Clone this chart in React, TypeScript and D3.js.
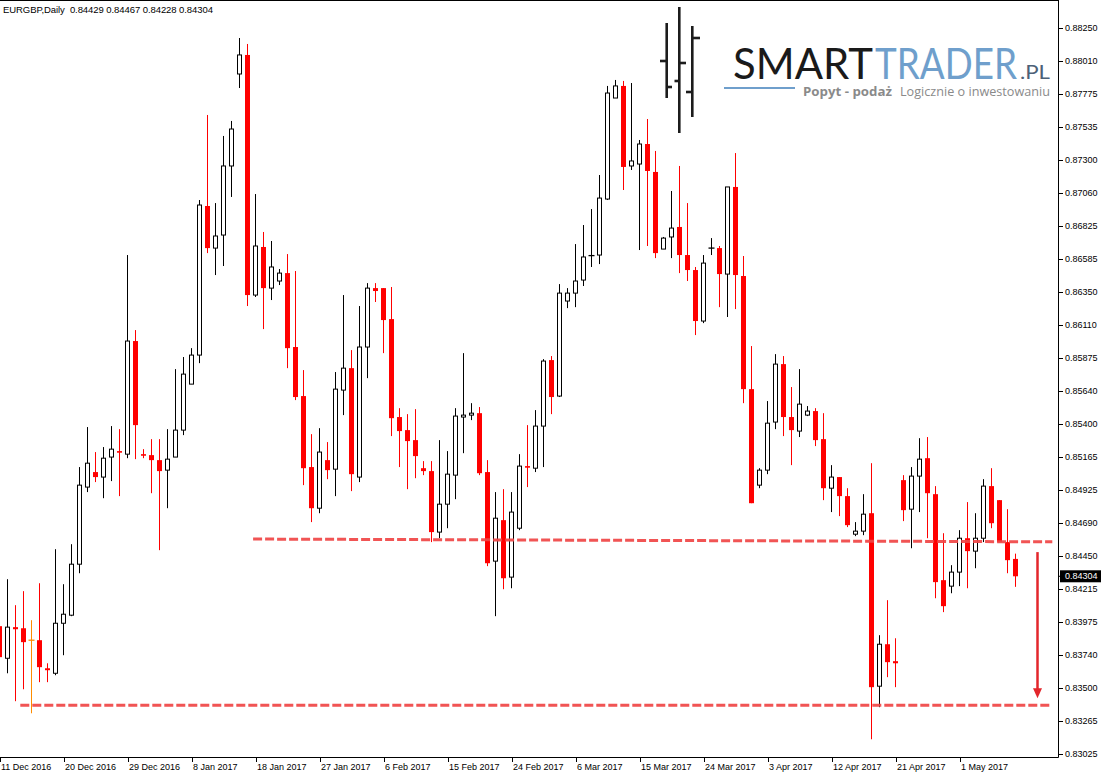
import React from 'react';
import * as d3 from 'd3';

// ---------- DATA ----------
const symbolTitle = "EURGBP,Daily";
const firstBarIndex = -1;

const openP: number[] = [
  0.83945, 0.83714, 0.83938, 0.83930, 0.83844, 0.83844, 0.83642, 0.83606, 0.83966, 0.84024,
  0.84391, 0.84946, 0.85054, 0.85018, 0.85162, 0.85205, 0.85183, 0.85997, 0.85183, 0.85176,
  0.85140, 0.85068, 0.85162, 0.85356, 0.85687, 0.85896, 0.86969, 0.86666, 0.86760, 0.87257,
  0.87919, 0.88056, 0.86328, 0.86674, 0.86378, 0.86429, 0.86486, 0.85954, 0.85601, 0.85090,
  0.84794, 0.85140, 0.85075, 0.85644, 0.85802, 0.85018, 0.85954, 0.86378, 0.86378, 0.86155,
  0.85450, 0.85356, 0.85284, 0.85082, 0.85061, 0.84622, 0.84823, 0.85032, 0.85450, 0.85464,
  0.85478, 0.85054, 0.84413, 0.84708, 0.84298, 0.84650, 0.85097, 0.85082, 0.85385, 0.85860,
  0.85601, 0.86285, 0.86342, 0.86436, 0.86612, 0.86616, 0.87019, 0.87746, 0.87833, 0.87257,
  0.87271, 0.87415, 0.87214, 0.86659, 0.86746, 0.86818, 0.86616, 0.86508, 0.86141, 0.86666,
  0.86666, 0.86479, 0.87106, 0.86465, 0.85651, 0.84960, 0.85068, 0.85414, 0.85831, 0.85450,
  0.85349, 0.85464, 0.85493, 0.85291, 0.84938, 0.85018, 0.84881, 0.84607, 0.84629, 0.84758,
  0.83513, 0.83815, 0.83693, 0.84996, 0.84787, 0.85025, 0.85154, 0.84895, 0.84276, 0.84233,
  0.84334, 0.84578, 0.84485, 0.84578, 0.84953, 0.84852, 0.84550, 0.84429
];
const highP: number[] = [
  0.84060, 0.84283, 0.84096, 0.84197, 0.83988, 0.84254, 0.83678, 0.84499, 0.84247, 0.84535,
  0.85090, 0.85378, 0.85198, 0.85234, 0.85385, 0.85363, 0.86616, 0.86076, 0.85219, 0.85291,
  0.85291, 0.85363, 0.85795, 0.85882, 0.85946, 0.87012, 0.87624, 0.86990, 0.87473, 0.87581,
  0.88178, 0.88135, 0.87055, 0.86782, 0.86717, 0.86515, 0.86623, 0.86501, 0.85788, 0.85327,
  0.85370, 0.85270, 0.85774, 0.86328, 0.85932, 0.86249, 0.86414, 0.86414, 0.86378, 0.86386,
  0.85514, 0.85471, 0.85507, 0.85133, 0.85133, 0.85284, 0.85205, 0.85514, 0.85910, 0.85550,
  0.85522, 0.85140, 0.84910, 0.84931, 0.84910, 0.85183, 0.85392, 0.85500, 0.85867, 0.85889,
  0.86407, 0.86378, 0.86695, 0.86832, 0.86947, 0.87192, 0.87833, 0.87876, 0.87869, 0.87854,
  0.87444, 0.87595, 0.87365, 0.86746, 0.87077, 0.87257, 0.86990, 0.86530, 0.86616, 0.86738,
  0.86681, 0.87106, 0.87350, 0.86609, 0.85961, 0.85082, 0.85565, 0.85903, 0.85889, 0.85666,
  0.85795, 0.85529, 0.85514, 0.85478, 0.85104, 0.85018, 0.84938, 0.84694, 0.84895, 0.85118,
  0.83880, 0.84132, 0.83858, 0.85032, 0.85090, 0.85298, 0.85306, 0.84953, 0.84614, 0.84384,
  0.84636, 0.84838, 0.84758, 0.85003, 0.85082, 0.84852, 0.84787, 0.84467
];
const lowP: number[] = [
  0.83642, 0.83606, 0.83405, 0.83491, 0.83318, 0.83542, 0.83542, 0.83592, 0.83736, 0.84017,
  0.84326, 0.84910, 0.84982, 0.84866, 0.84989, 0.84881, 0.85154, 0.85147, 0.85154, 0.84902,
  0.84492, 0.84794, 0.85162, 0.85320, 0.85687, 0.85838, 0.86630, 0.86472, 0.86537, 0.87034,
  0.87818, 0.86249, 0.86314, 0.86083, 0.86292, 0.86400, 0.85802, 0.85572, 0.84960, 0.84694,
  0.84758, 0.85003, 0.84881, 0.85464, 0.84917, 0.84982, 0.85730, 0.86278, 0.85910, 0.85313,
  0.85090, 0.84931, 0.85010, 0.85032, 0.84550, 0.84578, 0.84650, 0.84859, 0.85190, 0.85428,
  0.85032, 0.84377, 0.84017, 0.84211, 0.84218, 0.84636, 0.84946, 0.85054, 0.85090, 0.85471,
  0.85594, 0.86234, 0.86241, 0.86393, 0.86530, 0.86551, 0.87012, 0.87746, 0.87084, 0.87228,
  0.86652, 0.86681, 0.86594, 0.86659, 0.86594, 0.86486, 0.86429, 0.86040, 0.86126, 0.86616,
  0.86241, 0.86170, 0.86227, 0.85550, 0.84830, 0.84938, 0.85039, 0.85363, 0.85313, 0.85104,
  0.85306, 0.85457, 0.85241, 0.84852, 0.84766, 0.84737, 0.84658, 0.84593, 0.84600, 0.83131,
  0.83362, 0.83578, 0.83506, 0.84701, 0.84506, 0.84766, 0.84578, 0.84146, 0.84046, 0.84182,
  0.84233, 0.84218, 0.84362, 0.84550, 0.84650, 0.84550, 0.84326, 0.84228
];
const closeP: number[] = [
  0.83722, 0.83938, 0.83923, 0.83830, 0.83844, 0.83650, 0.83628, 0.83966, 0.84031, 0.84391,
  0.84960, 0.85118, 0.85018, 0.85154, 0.85219, 0.85198, 0.85997, 0.85392, 0.85176, 0.85140,
  0.85061, 0.85147, 0.85356, 0.85759, 0.85896, 0.86976, 0.86666, 0.86753, 0.87257, 0.87523,
  0.88056, 0.86328, 0.86681, 0.86378, 0.86530, 0.86486, 0.85946, 0.85594, 0.85082, 0.84794,
  0.85198, 0.85068, 0.85651, 0.85802, 0.85039, 0.85954, 0.86378, 0.86357, 0.86148, 0.85442,
  0.85349, 0.85277, 0.85169, 0.85061, 0.84622, 0.84823, 0.85039, 0.85457, 0.85464, 0.85478,
  0.85046, 0.84398, 0.84722, 0.84290, 0.84766, 0.85097, 0.85090, 0.85385, 0.85853, 0.85594,
  0.86342, 0.86342, 0.86429, 0.86602, 0.86612, 0.87026, 0.87782, 0.87833, 0.87250, 0.87293,
  0.87415, 0.87221, 0.86630, 0.86738, 0.86810, 0.86616, 0.86508, 0.86141, 0.86558, 0.86666,
  0.86479, 0.87106, 0.86472, 0.85651, 0.84830, 0.85068, 0.85406, 0.85831, 0.85450, 0.85356,
  0.85543, 0.85493, 0.85284, 0.84938, 0.85018, 0.84881, 0.84672, 0.84629, 0.84751, 0.83506,
  0.83815, 0.83686, 0.83678, 0.84780, 0.85025, 0.85147, 0.84902, 0.84262, 0.84089, 0.84334,
  0.84578, 0.84485, 0.84578, 0.84953, 0.84686, 0.84550, 0.84420, 0.84304
];

const priceTicks: number[] = [
  0.88250, 0.88010, 0.87775, 0.87535, 0.87300, 0.87060, 0.86825, 0.86585, 0.86350, 0.86110,
  0.85875, 0.85640, 0.85400, 0.85165, 0.84925, 0.84690, 0.84450, 0.84215, 0.83975, 0.83740,
  0.83500, 0.83265, 0.83025
];
const priceTickLabels: string[] = [
  "0.88250", "0.88010", "0.87775", "0.87535", "0.87300", "0.87060", "0.86825", "0.86585",
  "0.86350", "0.86110", "0.85875", "0.85640", "0.85400", "0.85165", "0.84925", "0.84690",
  "0.84450", "0.84215", "0.83975", "0.83740", "0.83500", "0.83265", "0.83025"
];
const dateTickLabels: string[] = [
  "11 Dec 2016", "20 Dec 2016", "29 Dec 2016", "8 Jan 2017", "18 Jan 2017", "27 Jan 2017",
  "6 Feb 2017", "15 Feb 2017", "24 Feb 2017", "6 Mar 2017", "15 Mar 2017", "24 Mar 2017",
  "3 Apr 2017", "12 Apr 2017", "21 Apr 2017", "1 May 2017"
];
const dateTickBars: number[] = [-1, 7, 15, 23, 31, 39, 47, 55, 63, 71, 79, 87, 95, 103, 111, 119];

// support / resistance annotations (bar index, price)
const resistanceBars: number[] = [30.7, 130.6];
const resistancePrices: number[] = [0.84572, 0.84552];
const supportBars: number[] = [1.6, 130.3];
const supportPrices: number[] = [0.83376, 0.83376];
const arrowBar = 128.75;
const arrowPrices: number[] = [0.84478, 0.83426];

const highlightedDojiBars: number[] = [3];

// ---------- CHART ----------
const W = 1101;
const H = 776;
const plotRight = 1058;
const plotBottom = 757;

export default function App() {
  const lastIdx = firstBarIndex + openP.length - 1;
  const x = d3.scaleLinear().domain([firstBarIndex, lastIdx]).range([-0.5, -0.5 + 8 * (lastIdx - firstBarIndex)]);
  const y = d3.scaleLinear().domain([0.83025, 0.8825]).range([754, 28]);

  const bull = "#000000";
  const bear = "#ff0000";
  const font = "'Liberation Sans', Arial, sans-serif";

  const candles = openP.map((o, k) => {
    const i = firstBarIndex + k;
    const c = closeP[k];
    const hi = highP[k];
    const lo = lowP[k];
    const cx = x(i);
    const yO = y(o), yC = y(c), yH = y(hi), yL = y(lo);
    if (o === c) {
      const col = highlightedDojiBars.includes(i) ? "#ff8c00" : bull;
      return (
        <g key={k}>
          <line x1={cx} x2={cx} y1={yH} y2={yL} stroke={col} strokeWidth={1} />
          <line x1={cx - 3} x2={cx + 3} y1={yO} y2={yO} stroke={col} strokeWidth={1.3} />
        </g>
      );
    }
    if (c > o) {
      return (
        <g key={k}>
          <line x1={cx} x2={cx} y1={yH} y2={yL} stroke={bull} strokeWidth={1} />
          <rect x={cx - 2} y={yC} width={4} height={Math.max(yO - yC, 1)} fill="#ffffff" stroke={bull} strokeWidth={1} />
        </g>
      );
    }
    const hgt = Math.max(yC - yO, 1.6);
    return (
      <g key={k}>
        <line x1={cx} x2={cx} y1={yH} y2={yL} stroke={bear} strokeWidth={1} />
        <rect x={cx - 2.5} y={yO} width={5} height={hgt} fill={bear} />
      </g>
    );
  });

  const lastClose = closeP[closeP.length - 1];
  const yLast = y(lastClose);

  const ax0 = x(arrowBar);
  const ay0 = y(arrowPrices[0]);
  const ay1 = y(arrowPrices[1]);

  return (
    <svg width={W} height={H} style={{ position: 'absolute', left: 0, top: 0, display: 'block', background: '#ffffff' }}>
      <defs>
        <clipPath id="plotClip">
          <rect x={0} y={0} width={plotRight} height={plotBottom} />
        </clipPath>
      </defs>
      <rect x={0} y={0} width={W} height={H} fill="#ffffff" />

      {/* Logo */}
      <g>
        <g stroke="#1c1c1c" strokeWidth={2.6} fill="none">
          <line x1={666.7} x2={666.7} y1={23} y2={98} />
          <line x1={660} x2={666.7} y1={61} y2={61} />
          <line x1={666.7} x2={672} y1={87} y2={87} />
          <line x1={679.3} x2={679.3} y1={7} y2={133} />
          <line x1={674.5} x2={679.3} y1={81} y2={81} />
          <line x1={679.3} x2={686} y1={63} y2={63} />
          <line x1={692.3} x2={692.3} y1={26} y2={117} />
          <line x1={686} x2={692.3} y1={92} y2={92} />
          <line x1={692.3} x2={700} y1={38} y2={38} />
        </g>
        <text x={733} y={79} fontFamily="Lato, 'Open Sans', sans-serif" fontSize={42} fill="#1a1a1a" textLength={140} lengthAdjust="spacingAndGlyphs">SMART</text>
        <text x={875} y={79} fontFamily="Lato, 'Open Sans', sans-serif" fontSize={42} fill="#6f9fcc" textLength={142} lengthAdjust="spacingAndGlyphs">TRADER</text>
        <text x={1020} y={79} fontFamily="Lato, 'Open Sans', sans-serif" fontSize={20} fill="#4d6178" textLength={30} lengthAdjust="spacingAndGlyphs">.PL</text>
        <line x1={724} x2={795} y1={88} y2={88} stroke="#6f9fcc" strokeWidth={2} />
        <text x={803} y={96} fontFamily="'Open Sans', sans-serif" fontWeight={700} fontSize={12.5} fill="#8a8a8a" textLength={89} lengthAdjust="spacingAndGlyphs">Popyt - podaż</text>
        <text x={900} y={96} fontFamily="'Open Sans', sans-serif" fontSize={12.5} fill="#8a8a8a" textLength={150} lengthAdjust="spacingAndGlyphs">Logicznie o inwestowaniu</text>
      </g>

      {/* Candles */}
      <g clipPath="url(#plotClip)">
        {candles}
      </g>

      {/* Support / resistance */}
      <g clipPath="url(#plotClip)" stroke="#f04646" strokeWidth={3} strokeDasharray="9 3" opacity={0.92}>
        <line x1={x(resistanceBars[0])} x2={x(resistanceBars[1])} y1={y(resistancePrices[0])} y2={y(resistancePrices[1])} />
        <line x1={x(supportBars[0])} x2={x(supportBars[1])} y1={y(supportPrices[0])} y2={y(supportPrices[1])} />
      </g>
      {/* Arrow */}
      <g>
        <line x1={ax0} x2={ax0} y1={ay0} y2={ay1 - 8} stroke="#e3262b" strokeWidth={2.5} />
        <path d={`M${ax0 - 4.5},${ay1 - 10} L${ax0 + 4.5},${ay1 - 10} L${ax0},${ay1} Z`} fill="#e3262b" />
      </g>

      {/* Frame */}
      <g stroke="#000000" strokeWidth={1} fill="none">
        <line x1={0} x2={plotRight + 0.5} y1={0.5} y2={0.5} />
        <line x1={plotRight + 0.5} x2={plotRight + 0.5} y1={0} y2={plotBottom + 0.5} />
        <line x1={0} x2={plotRight + 0.5} y1={plotBottom + 0.5} y2={plotBottom + 0.5} />
      </g>

      {/* Header */}
      <text x={3} y={13} fontFamily={font} fontSize={9.5} fill="#000000" textLength={210} lengthAdjust="spacing" xmlSpace="preserve">
        {`${symbolTitle}  ${openP[openP.length - 1].toFixed(5)} ${highP[highP.length - 1].toFixed(5)} ${lowP[lowP.length - 1].toFixed(5)} ${lastClose.toFixed(5)}`}
      </text>

      {/* Price axis */}
      <g>
        {priceTicks.map((p, k) => (
          <g key={k}>
            <line x1={plotRight + 1} x2={plotRight + 5} y1={Math.round(y(p)) + 0.5} y2={Math.round(y(p)) + 0.5} stroke="#000" strokeWidth={1} />
            <text x={1065} y={y(p)} dy="0.35em" fontFamily={font} fontSize={9} fill="#000">{priceTickLabels[k]}</text>
          </g>
        ))}
        <rect x={plotRight + 2} y={yLast - 6} width={W - plotRight - 2} height={12} fill="#000000" />
        <line x1={plotRight + 1} x2={plotRight + 5} y1={yLast} y2={yLast} stroke="#000" strokeWidth={1} />
        <text x={1065} y={yLast} dy="0.35em" fontFamily={font} fontSize={9} fill="#ffffff">{lastClose.toFixed(5)}</text>
      </g>

      {/* Date axis */}
      <g>
        {dateTickLabels.map((lab, k) => {
          const tx = Math.round(x(dateTickBars[k])) + 0.5;
          return (
            <g key={k}>
              <line x1={tx} x2={tx} y1={plotBottom + 1} y2={plotBottom + 5} stroke="#000" strokeWidth={1} />
              <text x={tx + 0.5} y={770} fontFamily={font} fontSize={9} fill="#000">{lab}</text>
            </g>
          );
        })}
      </g>
    </svg>
  );
}
